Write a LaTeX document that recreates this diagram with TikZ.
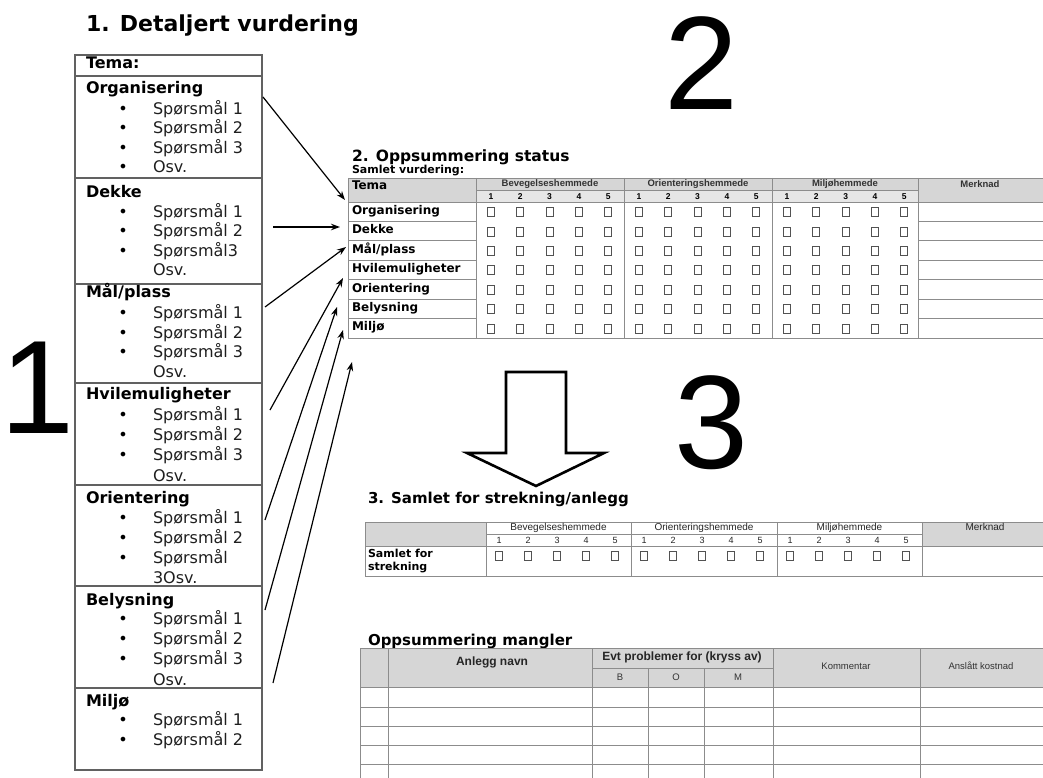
\documentclass[tikz,border=0pt]{standalone}
\usepackage{fontspec}
\setmainfont{DejaVu Sans}
\newfontfamily\arialf{Liberation Sans}
\usetikzlibrary{arrows.meta}
\definecolor{hdr}{HTML}{D6D6D6}
\definecolor{hdrl}{HTML}{E6E6E6}
\begin{document}
\begin{tikzpicture}[x=1pt,y=-1pt,
  every node/.style={inner sep=0pt,outer sep=0pt},
  hd/.style={anchor=mid west,font=\fontsize{16}{19}\selectfont\bfseries},
  it/.style={anchor=mid west,font=\fontsize{16}{19}\selectfont,text=black!88},
  bul/.style={anchor=mid,font=\fontsize{16}{19}\selectfont},
  ttl/.style={anchor=base west,font=\fontsize{15.5}{18}\selectfont\bfseries},
  rl/.style={anchor=mid west,font=\fontsize{12}{14}\selectfont\bfseries},
  gh/.style={anchor=mid,font=\arialf\fontsize{9.5}{11}\selectfont\bfseries,text=black!80},
  num/.style={anchor=mid,font=\arialf\fontsize{8.5}{10}\selectfont\bfseries},
  gh3/.style={anchor=mid,font=\arialf\fontsize{10}{11}\selectfont,text=black!85},
  num3/.style={anchor=mid,font=\arialf\fontsize{9}{10}\selectfont,text=black!85},
  th4/.style={anchor=mid,font=\arialf\fontsize{12}{14}\selectfont\bfseries,text=black!85},
  ts4/.style={anchor=mid,font=\arialf\fontsize{9.5}{11}\selectfont,text=black!80},
  cbox/.style={draw=black!68,line width=0.9},
  bigd/.style={anchor=base west,font=\arialf\fontsize{133}{133}\selectfont},
  conn/.style={-{Stealth[length=9,width=6.5]},line width=1.2},
  boxl/.style={draw=black!62,line width=1.5},
  tl/.style={draw=black!45,line width=0.8},
]
\useasboundingbox (0,0) rectangle (1043,778);
\fill[white] (0,0) rectangle (1043,778);

% ---------- 1: detailed assessment ----------
\node[anchor=base west,font=\fontsize{22}{26}\selectfont\bfseries] (t1) at (86,32) {1. Detaljert vurdering};
\draw[boxl] (75,55) rectangle (262,770);
\foreach \yy in {76,178,284,383,485,586,688} \draw[boxl] (75,\yy) -- (262,\yy);
\node[hd] (hTema) at (86,66) {Tema:};
\begin{scope}[yshift=-2.5pt]
\node[hd] (hOrg) at (86,88) {Organisering};
\node[hd] (hDek) at (86,192) {Dekke};
\node[hd] (hMal) at (86,292) {Mål/plass};
\node[hd] (hHvi) at (86,394) {Hvilemuligheter};
\node[hd] (hOri) at (86,498) {Orientering};
\node[hd] (hBel) at (86,600) {Belysning};
\node[hd] (hMil) at (86,701) {Miljø};
\foreach \nm/\yy/\tx/\bb in {
 a1/109/Spørsmål 1/1, a2/128/Spørsmål 2/1, a3/148/Spørsmål 3/1, a4/167/Osv./1,
 b1/212/Spørsmål 1/1, b2/231/Spørsmål 2/1, b3/251/Spørsmål3/1, b4/270/Osv./0,
 c1/313/Spørsmål 1/1, c2/333/Spørsmål 2/1, c3/352/Spørsmål 3/1, c4/372/Osv./0,
 d1/415/Spørsmål 1/1, d2/435/Spørsmål 2/1, d3/455/Spørsmål 3/1, d4/476/Osv./0,
 e1/518/Spørsmål 1/1, e2/538/Spørsmål 2/1, e3/558/Spørsmål/1, e4/578/3Osv./0,
 f1/619/Spørsmål 1/1, f2/639/Spørsmål 2/1, f3/659/Spørsmål 3/1, f4/680/Osv./0,
 g1/720/Spørsmål 1/1, g2/740/Spørsmål 2/1}
{
  \node[it] (i\nm) at (153,\yy) {\tx};
  \ifnum\bb=1 \node[bul] (p\nm) at (123,\yy) {•}; \fi
}
\end{scope}

% big numbers
\node[bigd] (d1) at (0,433) {1};
\node[bigd] (d2) at (664,110) {2};
\node[bigd] (d3) at (674,468) {3};

% ---------- 2: summary status ----------
\node[ttl] (t2) at (352,161) {2. Oppsummering status};
\node[anchor=base west,font=\fontsize{11}{13}\selectfont\bfseries] (t2s) at (352,174) {Samlet vurdering:};
\fill[hdr] (348,178) rectangle (476,202);
\fill[hdr] (476,178) rectangle (918,190);
\fill[hdrl] (476,190) rectangle (918,202);
\fill[hdr] (918,178) rectangle (1043,202);
\draw[tl] (348,178) -- (1043,178);
\draw[tl] (348,178) -- (348,338);
\draw[tl] (348,338) -- (1043,338);
\foreach \xx in {476,624,772,918} \draw[tl] (\xx,178) -- (\xx,338);
\draw[tl] (476,190) -- (918,190);
\draw[tl] (348,202) -- (1043,202);
\foreach \r in {1,...,6} {
  \draw[tl] (348,{202+19.4*\r}) -- (476,{202+19.4*\r});
  \draw[tl] (918,{202+19.4*\r}) -- (1043,{202+19.4*\r});
}
\node[rl,anchor=mid west] (tTema) at (352,187) {Tema};
\node[gh] (gB) at (550,184) {Bevegelseshemmede};
\node[gh] (gO) at (698,184) {Orienteringshemmede};
\node[gh] (gM) at (845,184) {Miljøhemmede};
\node[gh] (gK) at (980,185) {Merknad};
\foreach \g in {0,1,2} \foreach \k in {1,...,5}
  \node[num] (n\g\k) at ({476+148*\g+15+29.3*(\k-1)},196.5) {\k};
\node[rl] (r1) at (352,211.7) {Organisering};
\node[rl] (r2) at (352,231.1) {Dekke};
\node[rl] (r3) at (352,250.5) {Mål/plass};
\node[rl] (r4) at (352,269.9) {Hvilemuligheter};
\node[rl] (r5) at (352,289.3) {Orientering};
\node[rl] (r6) at (352,308.7) {Belysning};
\node[rl] (r7) at (352,328.1) {Miljø};
\foreach \r in {0,...,6} \foreach \g in {0,1,2} \foreach \k in {0,...,4}
  \draw[cbox] ({476+148*\g+15+29.3*\k-3.5},{211.7+19.4*\r-4}) rectangle ++(7,9);

% connectors
\coordinate (s1) at (263,97);  \coordinate (e1) at (345,200);
\coordinate (s2) at (273,227); \coordinate (e2) at (340,227);
\coordinate (s3) at (265,307); \coordinate (e3) at (346,247);
\coordinate (s4) at (270,410); \coordinate (e4) at (343,278);
\coordinate (s5) at (265,520); \coordinate (e5) at (337,307);
\coordinate (s6) at (265,610); \coordinate (e6) at (343,330);
\coordinate (s7) at (273,683); \coordinate (e7) at (352,362);
\foreach \i in {1,...,7} \draw[conn] (s\i) -- (e\i);

% hollow down arrow
\draw[line width=2.6,fill=white,line join=miter] (506,372) -- (566,372) -- (566,453) -- (604,453) -- (536,486) -- (467,453) -- (506,453) -- cycle;

% ---------- 3: total for section ----------
\node[ttl,font=\fontsize{15}{18}\selectfont\bfseries] (t3) at (368,503) {3. Samlet for strekning/anlegg};
\fill[hdr] (365,522) rectangle (486,546);
\fill[hdr] (922,522) rectangle (1043,546);
\draw[tl] (365,522) -- (1043,522);
\draw[tl] (486,534) -- (922,534);
\draw[tl] (365,546) -- (1043,546);
\draw[tl] (365,576) -- (1043,576);
\foreach \xx in {365,486,631,777,922} \draw[tl] (\xx,522) -- (\xx,576);
\node[gh3] (hB3) at (558.5,528) {Bevegelseshemmede};
\node[gh3] (hO3) at (704,528) {Orienteringshemmede};
\node[gh3] (hM3) at (849.5,528) {Miljøhemmede};
\node[gh3] (hK3) at (985,528) {Merknad};
\foreach \g/\gx in {0/486,1/631,2/777} \foreach \k in {0,...,4} {
  \node[num3] (m\g\k) at ({\gx+13+29*\k},540.5) {\the\numexpr\k+1\relax};
  \draw[cbox] ({\gx+13+29*\k-3.5},{551}) rectangle ++(7,9);
}
\node[rl,font=\fontsize{11}{13}\selectfont\bfseries] (sf1) at (368,555) {Samlet for};
\node[rl,font=\fontsize{11}{13}\selectfont\bfseries] (sf2) at (368,568) {strekning};

% ---------- summary of deficiencies ----------
\node[ttl,font=\fontsize{15}{18}\selectfont\bfseries] (t4) at (368,645) {Oppsummering mangler};
\fill[hdr] (360,648) rectangle (1043,687);
\draw[tl] (360,648) -- (1043,648);
\draw[tl] (592,668) -- (773,668);
\draw[tl] (360,687) -- (1043,687);
\foreach \yy in {707,726,745,764} \draw[tl] (360,\yy) -- (1043,\yy);
\foreach \xx in {360,388,592,773,920} \draw[tl] (\xx,648) -- (\xx,778);
\foreach \xx in {648,704} \draw[tl] (\xx,668) -- (\xx,778);
\node[th4] (hAn) at (492,663) {Anlegg navn};
\node[th4] (hEv) at (682,658) {Evt problemer for (kryss av)};
\node[ts4] (hB4) at (620,678) {B};
\node[ts4] (hO4) at (676,678) {O};
\node[ts4] (hM4) at (738,678) {M};
\node[ts4] (hKo) at (846,667) {Kommentar};
\node[ts4] (hAk) at (981,667) {Anslått kostnad};
\end{tikzpicture}
\end{document}
